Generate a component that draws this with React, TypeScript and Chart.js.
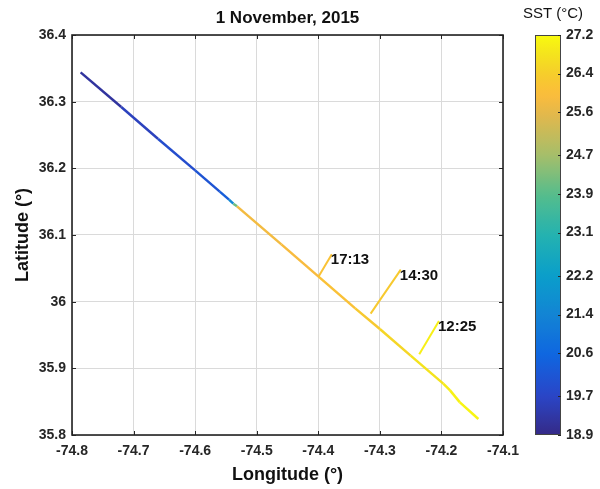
import React, { useEffect, useRef } from "react";
import { Chart, registerables } from "chart.js";

Chart.register(...registerables);

// Ship track
const trackLon = [-74.786, -74.72, -74.66, -74.6, -74.56, -74.545, -74.538, -74.532, -74.46, -74.4, -74.34, -74.3, -74.25, -74.197, -74.186, -74.17, -74.14];
const trackLat = [36.344, 36.292, 36.244, 36.197, 36.165, 36.153, 36.147, 36.143, 36.086, 36.038, 35.99, 35.959, 35.919, 35.877, 35.867, 35.849, 35.824];
const trackSst = [19.0, 19.4, 19.8, 20.0, 20.2, 20.5, 22.5, 25.8, 25.85, 25.95, 26.2, 26.4, 26.7, 26.9, 27.0, 27.1, 27.1];

// Time marker ticks
const markLabels = ["17:13", "14:30", "12:25"];
const markLon = [[-74.4, -74.378], [-74.315, -74.266], [-74.236, -74.204]];
const markLat = [[36.037, 36.071], [35.982, 36.048], [35.921, 35.971]];
const markSst = [26.1, 26.3, 27.0];

const xTicks = [-74.8, -74.7, -74.6, -74.5, -74.4, -74.3, -74.2, -74.1];
const yTicks = [35.8, 35.9, 36.0, 36.1, 36.2, 36.3, 36.4];
const cbTicks = [18.9, 19.7, 20.6, 21.4, 22.2, 23.1, 23.9, 24.7, 25.6, 26.4, 27.2];
const sstMin = 18.9;
const sstMax = 27.2;

const titleText = "1 November, 2015";
const cbTitle = "SST (°C)";

// parula-like colormap stops [position, colour]
const parulaPos = [0, 0.1, 0.2, 0.3, 0.4, 0.5, 0.6, 0.7, 0.8, 0.85, 0.9, 0.95, 1];
const parulaCol = ["#352a87", "#2a46c8", "#0f66e0", "#1384d4", "#0a9fca", "#24b2b0", "#55bd8c", "#a6be6a", "#e2b84c", "#fbbc3c", "#f6cc2c", "#f4e21e", "#f9fb0e"];

function hexToRgb(h: string) {
  const n = parseInt(h.slice(1), 16);
  return [(n >> 16) & 255, (n >> 8) & 255, n & 255];
}
function parula(t: number) {
  t = Math.max(0, Math.min(1, t));
  let i = 0;
  while (i < parulaPos.length - 2 && t > parulaPos[i + 1]) i++;
  const f = (t - parulaPos[i]) / (parulaPos[i + 1] - parulaPos[i]);
  const a = hexToRgb(parulaCol[i]);
  const b = hexToRgb(parulaCol[i + 1]);
  const c = a.map((v, k) => Math.round(v + (b[k] - v) * f));
  return `rgb(${c[0]},${c[1]},${c[2]})`;
}
function sstColor(v: number) {
  return parula((v - sstMin) / (sstMax - sstMin));
}

const FONT = "'Liberation Sans', Arial, sans-serif";
const TEXT = "#262626";

const overlay = {
  id: "overlay",
  afterDraw(chart: any) {
    const { ctx, chartArea: a, scales } = chart;
    const xs = scales.x, ys = scales.y;
    ctx.save();
    // inward ticks
    ctx.strokeStyle = TEXT;
    ctx.lineWidth = 1;
    const tl = 4;
    ctx.beginPath();
    xTicks.forEach((v) => {
      const px = Math.round(xs.getPixelForValue(v)) + 0.5;
      ctx.moveTo(px, a.bottom); ctx.lineTo(px, a.bottom - tl);
      ctx.moveTo(px, a.top); ctx.lineTo(px, a.top + tl);
    });
    yTicks.forEach((v) => {
      const py = Math.round(ys.getPixelForValue(v)) + 0.5;
      ctx.moveTo(a.left, py); ctx.lineTo(a.left + tl, py);
      ctx.moveTo(a.right, py); ctx.lineTo(a.right - tl, py);
    });
    ctx.stroke();
    // box
    ctx.strokeStyle = "#222";
    ctx.lineWidth = 1.6;
    ctx.strokeRect(a.left, a.top, a.right - a.left, a.bottom - a.top);

    // title
    ctx.fillStyle = "#111";
    ctx.font = `bold 17px ${FONT}`;
    ctx.textAlign = "center";
    ctx.textBaseline = "middle";
    ctx.fillText(titleText, (a.left + a.right) / 2, 18);

    // time labels
    ctx.font = `bold 15px ${FONT}`;
    ctx.textAlign = "left";
    markLabels.forEach((lab, i) => {
      const px = xs.getPixelForValue(markLon[i][1]);
      const py = ys.getPixelForValue(markLat[i][1]);
      ctx.fillText(lab, px - 1, py + 6);
    });

    // colorbar
    const cbL = 535, cbR = 561;
    const top = a.top, bot = a.bottom;
    const g = ctx.createLinearGradient(0, bot, 0, top);
    for (let k = 0; k <= 64; k++) g.addColorStop(k / 64, parula(k / 64));
    ctx.fillStyle = g;
    ctx.fillRect(cbL, top, cbR - cbL, bot - top);
    ctx.strokeStyle = "#444";
    ctx.lineWidth = 1;
    ctx.strokeRect(cbL + 0.5, top + 0.5, cbR - cbL - 1, bot - top - 1);
    ctx.font = `bold 14px ${FONT}`;
    ctx.fillStyle = TEXT;
    ctx.textAlign = "left";
    ctx.textBaseline = "middle";
    ctx.strokeStyle = TEXT;
    cbTicks.forEach((v) => {
      const py = bot - ((v - sstMin) / (sstMax - sstMin)) * (bot - top);
      ctx.beginPath();
      ctx.moveTo(cbR, Math.round(py) + 0.5);
      ctx.lineTo(cbR - 3, Math.round(py) + 0.5);
      ctx.stroke();
      ctx.fillText(v.toFixed(1), cbR + 5, py);
    });
    ctx.font = `15px ${FONT}`;
    ctx.fillStyle = "#111";
    ctx.textAlign = "center";
    ctx.fillText(cbTitle, 553, 14);
    ctx.restore();
  },
};

export default function App() {
  const ref = useRef<HTMLCanvasElement | null>(null);
  useEffect(() => {
    if (!ref.current) return;
    const datasets: any[] = [
      {
        data: trackLon.map((x, i) => ({ x, y: trackLat[i] })),
        showLine: true,
        pointRadius: 0,
        borderWidth: 2.5,
        borderColor: sstColor(trackSst[0]),
        segment: {
          borderColor: (c: any) => sstColor((trackSst[c.p0DataIndex] + trackSst[c.p1DataIndex]) / 2),
        },
      },
      ...markLabels.map((_, i) => ({
        data: markLon[i].map((x, k) => ({ x, y: markLat[i][k] })),
        showLine: true,
        pointRadius: 0,
        borderWidth: 2,
        borderColor: sstColor(markSst[i]),
      })),
    ];
    const fmt = (v: any) => String(Math.round(Number(v) * 10) / 10);
    const chart = new Chart(ref.current, {
      type: "scatter",
      data: { datasets },
      plugins: [overlay],
      options: {
        animation: false,
        responsive: false,
        devicePixelRatio: 1,
        layout: { padding: { left: 0, right: 97, top: 35, bottom: 0 } },
        plugins: { legend: { display: false }, tooltip: { enabled: false }, title: { display: false } },
        scales: {
          x: {
            type: "linear",
            min: -74.8,
            max: -74.1,
            afterBuildTicks: (s: any) => { s.ticks = xTicks.map((value) => ({ value })); },
            afterFit: (s: any) => { s.height = 54; },
            grid: { color: "#dadada", lineWidth: 1, drawTicks: false },
            border: { display: false },
            ticks: { callback: fmt, padding: 8, color: TEXT, font: { family: FONT, size: 14, weight: "bold" }, maxRotation: 0 },
            title: { display: true, text: "Longitude (°)", color: "#111", font: { family: FONT, size: 18, weight: "bold" }, padding: { top: 0, bottom: 3 } },
          },
          y: {
            type: "linear",
            min: 35.8,
            max: 36.4,
            afterBuildTicks: (s: any) => { s.ticks = yTicks.map((value) => ({ value })); },
            afterFit: (s: any) => { s.width = 72; },
            grid: { color: "#dadada", lineWidth: 1, drawTicks: false },
            border: { display: false },
            ticks: { callback: fmt, padding: 6, color: TEXT, font: { family: FONT, size: 14, weight: "bold" } },
            title: { display: true, text: "Latitude (°)", color: "#111", font: { family: FONT, size: 18, weight: "bold" }, padding: { top: 12, bottom: 0 } },
          },
        },
      } as any,
    });
    return () => chart.destroy();
  }, []);
  return (
    <div style={{ position: "fixed", left: 0, top: 0, width: 600, height: 489, background: "#fff" }}>
      <canvas ref={ref} width={600} height={489} style={{ width: 600, height: 489, display: "block" }} />
    </div>
  );
}
